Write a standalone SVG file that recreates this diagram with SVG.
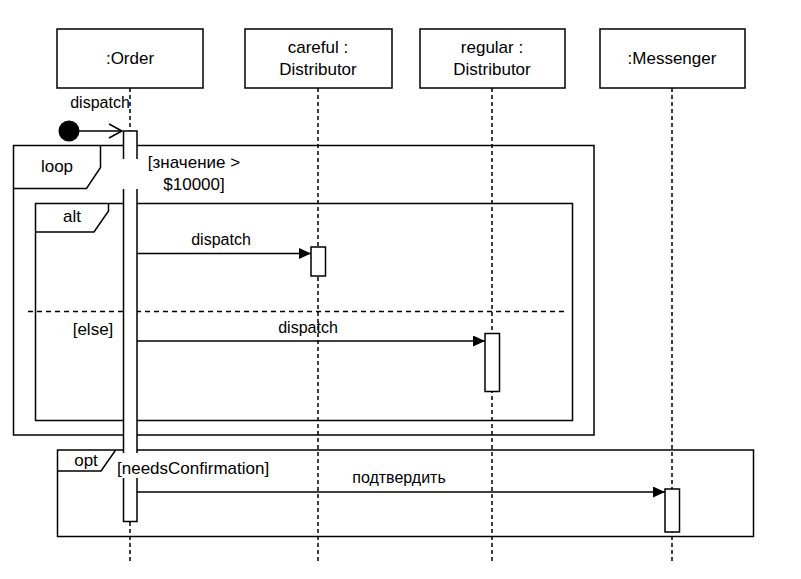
<svg xmlns="http://www.w3.org/2000/svg" width="801" height="579" viewBox="0 0 801 579">
<style>
  text { font-family: "Liberation Sans", Arial, sans-serif; font-size: 17px; fill: #000; }
  .m { font-size: 16px; }
  .c { text-anchor: middle; }
  .box { fill: #fff; stroke: #000; stroke-width: 1.5; }
  .life { stroke: #000; stroke-width: 1.5; stroke-dasharray: 4 3; fill: none; }
  .frame { fill: none; stroke: #000; stroke-width: 1.5; }
  .act { fill: #fff; stroke: #000; stroke-width: 1.5; }
  .msg { stroke: #000; stroke-width: 1.5; fill: none; }
  .sep { stroke: #000; stroke-width: 1.5; stroke-dasharray: 5 4; fill: none; }
  .bg { fill: #fff; stroke: none; }
</style>
<defs>
  <marker id="tri" markerWidth="12" markerHeight="11" refX="12" refY="5.5" orient="auto" markerUnits="userSpaceOnUse">
    <path d="M0,0 L12,5.5 L0,11 Z" fill="#000"/>
  </marker>
  <marker id="open" markerWidth="16" markerHeight="16" refX="14" refY="8" orient="auto" markerUnits="userSpaceOnUse">
    <path d="M1,1 L14,8 L1,15" fill="none" stroke="#000" stroke-width="1.5"/>
  </marker>
</defs>
<rect width="801" height="579" fill="#fff"/>

<g id="lifeline-order">
  <line class="life" x1="130" y1="88" x2="130" y2="562"/>
  <rect class="box" x="57" y="29" width="146" height="59"/>
  <text class="c" x="130" y="64">:Order</text>
</g>
<g id="lifeline-careful">
  <line class="life" x1="318" y1="88" x2="318" y2="562"/>
  <rect class="box" x="245" y="29" width="147" height="59"/>
  <text class="c" x="318" y="53">careful :</text>
  <text class="c" x="318" y="75">Distributor</text>
</g>
<g id="lifeline-regular">
  <line class="life" x1="492" y1="88" x2="492" y2="562"/>
  <rect class="box" x="420" y="29" width="145" height="59"/>
  <text class="c" x="492" y="53">regular :</text>
  <text class="c" x="492" y="75">Distributor</text>
</g>
<g id="lifeline-messenger">
  <line class="life" x1="672" y1="88" x2="672" y2="562"/>
  <rect class="box" x="600" y="29" width="145" height="59"/>
  <text class="c" x="672" y="64">:Messenger</text>
</g>

<g id="frame-loop">
  <rect class="frame" x="13.5" y="145.5" width="580.5" height="289.5"/>
  <path class="frame" d="M13.5,188.5 L86.5,188.5 L100.5,167.5 L100.5,145.5"/>
  <text class="c" x="57" y="172">loop</text>
</g>
<g id="frame-alt">
  <rect class="frame" x="35.5" y="203.5" width="537" height="217"/>
  <path class="frame" d="M35.5,232 L94,232 L108.5,211 L108.5,203.5"/>
  <text class="c" x="72" y="222">alt</text>
  <line class="sep" x1="28" y1="311.5" x2="565" y2="311.5"/>
  <text class="c" x="93" y="335">[else]</text>
</g>
<g id="frame-opt">
  <rect class="frame" x="57.5" y="450" width="696" height="86.5"/>
  <path class="frame" d="M57.5,471 L101,471 L115,451 L115,450"/>
  <text class="c" x="86" y="466">opt</text>
</g>

<g id="activations">
  <rect class="act" x="123.5" y="131" width="13.5" height="390.5"/>
  <rect class="act" x="311" y="247" width="14.5" height="29"/>
  <rect class="act" x="485" y="333.5" width="14.5" height="58"/>
  <rect class="act" x="665" y="489" width="14.5" height="43"/>
</g>

<g id="guards">
  <rect class="bg" x="117" y="159" width="127" height="30"/>
  <text class="c" x="194" y="168">[значение &gt;</text>
  <text class="c" x="194" y="190">$10000]</text>
  <rect class="bg" x="116" y="453" width="158" height="25"/>
  <text x="117" y="474">[needsConfirmation]</text>
</g>

<g id="start">
  <circle cx="69" cy="131" r="10.5" fill="#000"/>
</g>

<g id="connectors">
  <line class="msg" x1="79" y1="131" x2="122" y2="131" marker-end="url(#open)"/>
  <text class="c m" x="100" y="108">dispatch</text>
  <line class="msg" x1="137" y1="253.5" x2="311" y2="253.5" marker-end="url(#tri)"/>
  <text class="c m" x="221" y="245">dispatch</text>
  <line class="msg" x1="137" y1="341" x2="485" y2="341" marker-end="url(#tri)"/>
  <text class="c m" x="308" y="333">dispatch</text>
  <line class="msg" x1="137" y1="492" x2="665" y2="492" marker-end="url(#tri)"/>
  <text class="c m" x="399" y="483">подтвердить</text>
</g>
</svg>
